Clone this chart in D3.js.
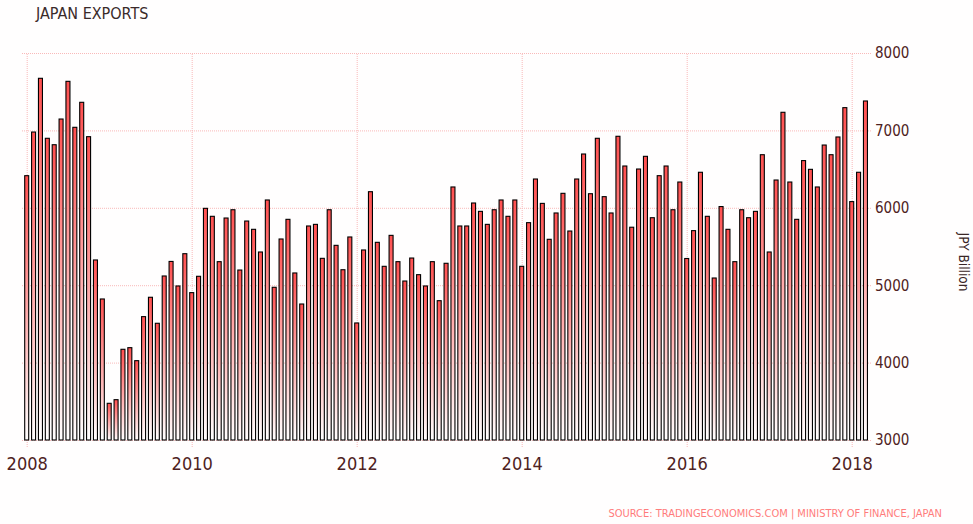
<!DOCTYPE html>
<html>
<head>
<meta charset="utf-8">
<script src="https://cdn.jsdelivr.net/npm/d3@7"></script>
<style>
  body { margin: 0; background: #fff; }
  svg { display: block; }
</style>
</head>
<body>
<div id="chart"></div>
<script>
// monthly exports, JPY billion, Jan 2008 .. Mar 2018
var exports2008 = [6415, 6979, 7673, 6898, 6815, 7147, 7634, 7040, 7363, 6919, 5326, 4822];
var exports2009 = [3474, 3521, 4172, 4193, 4025, 4594, 4844, 4508, 5119, 5307, 4990, 5407];
var exports2010 = [4904, 5115, 5993, 5890, 5304, 5868, 5975, 5196, 5829, 5722, 5429, 6101];
var exports2011 = [4973, 5597, 5851, 5158, 4757, 5765, 5786, 5347, 5975, 5515, 5200, 5623];
var exports2012 = [4512, 5455, 6208, 5554, 5244, 5644, 5304, 5054, 5351, 5136, 4990, 5304];
var exports2013 = [4800, 5283, 6269, 5765, 5765, 6062, 5954, 5786, 5975, 6101, 5890, 6101];
var exports2014 = [5244, 5808, 6372, 6057, 5593, 5933, 6187, 5700, 6372, 6695, 6182, 6898];
var exports2015 = [6144, 5933, 6924, 6540, 5749, 6501, 6665, 5872, 6415, 6540, 5975, 6333];
var exports2016 = [5345, 5705, 6459, 5890, 5093, 6016, 5722, 5304, 5975, 5872, 5954, 6686];
var exports2017 = [5429, 6359, 7234, 6333, 5851, 6610, 6497, 6269, 6811, 6686, 6915, 7294];
var exports2018 = [6080, 6459, 7380];

var firstYear = 2008;
var yearTicks = [2008, 2010, 2012, 2014, 2016, 2018];
var valueTicks = [3000, 4000, 5000, 6000, 7000, 8000];

var values = [].concat(exports2008, exports2009, exports2010, exports2011, exports2012,
  exports2013, exports2014, exports2015, exports2016, exports2017, exports2018);

const width = 973;
const height = 524;
const plotLeft = 21, plotRight = 871, plotTop = 53, plotBottom = 440;
const gridColor = "#f9b9b9";
const labelColor = "#4e2222";
const narrow = "'Liberation Sans Narrow', 'DejaVu Sans Condensed', sans-serif";

let svg = d3.select("div#chart")
  .append("svg")
  .attr("width", width)
  .attr("height", height);

svg.append("rect")
  .attr("width", width)
  .attr("height", height)
  .attr("fill", "#fffefe");

// month index -> x (bar centre), Jan 2008 = 0
let x = d3.scaleLinear().domain([0, 120]).range([26.7, 851.7]);
let y = d3.scaleLinear().domain([3000, 8000]).range([plotBottom, plotTop]);

let grad = svg.append("defs").append("linearGradient")
  .attr("id", "barFill")
  .attr("x1", 0).attr("y1", 0)
  .attr("x2", 0).attr("y2", 1);
grad.append("stop").attr("offset", "0%").attr("stop-color", "#ff4f4f");
grad.append("stop").attr("offset", "100%").attr("stop-color", "#ffffff");

// horizontal grid + right labels
let yAxis = svg.append("g")
  .attr("transform", `translate(${plotRight},0)`)
  .call(d3.axisRight(y).tickValues(valueTicks).tickSize(-(plotRight - plotLeft)).tickPadding(4).tickFormat(d3.format("d")));

// vertical grid + year labels
let xAxis = svg.append("g")
  .attr("transform", "translate(0,447)")
  .call(d3.axisBottom(x)
    .tickValues(yearTicks.map(yr => (yr - firstYear) * 12))
    .tickSize(-(447 - plotTop))
    .tickPadding(10)
    .tickFormat(i => firstYear + i / 12));

[xAxis, yAxis].forEach(function(g) {
  g.select(".domain").remove();
  g.selectAll(".tick line").call(gridAttr);
});

yAxis.selectAll("text").call(textAttr, labelColor, "'DejaVu Sans Condensed', sans-serif", "15px");
xAxis.selectAll("text").call(textAttr, labelColor, narrow, "18px");

svg.append("g").selectAll("rect")
  .data(values)
  .enter()
  .append("rect")
  .attr("x", (d, i) => x(i) - 2)
  .attr("y", d => y(d))
  .attr("width", 4)
  .attr("height", d => plotBottom - y(d))
  .attr("fill", "url(#barFill)")
  .attr("stroke", "#000")
  .attr("stroke-width", 1.1);

svg.append("text")
  .attr("x", 36)
  .attr("y", 19)
  .call(textAttr, "#3a2a2a", narrow, "16px")
  .text("JAPAN EXPORTS");

svg.append("text")
  .attr("transform", "translate(959,262) rotate(90)")
  .attr("text-anchor", "middle")
  .call(textAttr, "#3a2626", "'DejaVu Sans Condensed', sans-serif", "13.5px")
  .text("JPY Billion");

svg.append("text")
  .attr("x", 942)
  .attr("y", 517)
  .attr("text-anchor", "end")
  .call(textAttr, "#ff7c7c", narrow, "11px")
  .text("SOURCE: TRADINGECONOMICS.COM | MINISTRY OF FINANCE, JAPAN");

function gridAttr(selection) {
  selection
    .attr("stroke", gridColor)
    .attr("stroke-width", 1)
    .attr("stroke-dasharray", "1,1");
}

function textAttr(selection, fill, fontFamily, fontSize) {
  selection
    .attr("fill", fill)
    .attr("font-family", fontFamily)
    .attr("font-size", fontSize);
}
</script>
</body>
</html>
